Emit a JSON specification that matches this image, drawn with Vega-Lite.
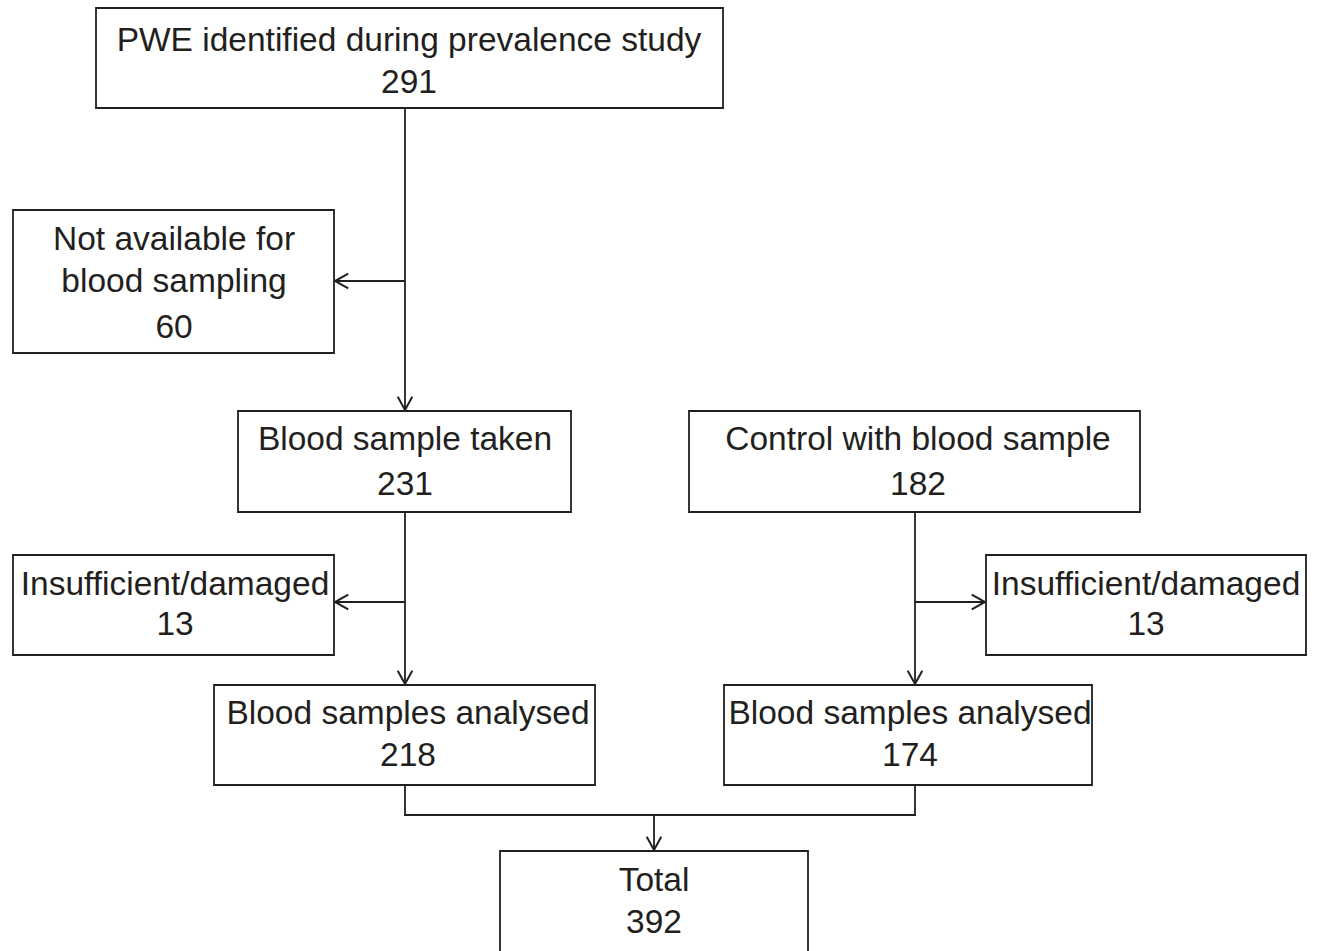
{
  "$schema": "https://vega.github.io/schema/vega-lite/v6.json",
  "width": 1318,
  "height": 951,
  "padding": 0,
  "autosize": {"type": "fit", "contains": "padding"},
  "background": "white",
  "config": {"view": {"stroke": null}},
  "datasets": {
    "boxes": [
      {"id": "pwe", "x": 96, "x2": 723, "y": 8, "y2": 108},
      {"id": "notavail", "x": 13, "x2": 334, "y": 210, "y2": 353},
      {"id": "taken", "x": 238, "x2": 571, "y": 411, "y2": 512},
      {"id": "control", "x": 689, "x2": 1140, "y": 411, "y2": 512},
      {"id": "insuf1", "x": 13, "x2": 334, "y": 555, "y2": 655},
      {"id": "insuf2", "x": 986, "x2": 1306, "y": 555, "y2": 655},
      {"id": "anal1", "x": 214, "x2": 595, "y": 685, "y2": 785},
      {"id": "anal2", "x": 724, "x2": 1092, "y": 685, "y2": 785},
      {"id": "total", "x": 500, "x2": 808, "y": 851, "y2": 965}
    ],
    "links": [
      {"x": 405, "y": 108, "x2": 405, "y2": 410},
      {"x": 405, "y": 281, "x2": 335, "y2": 281},
      {"x": 405, "y": 512, "x2": 405, "y2": 684},
      {"x": 405, "y": 602, "x2": 335, "y2": 602},
      {"x": 915, "y": 512, "x2": 915, "y2": 684},
      {"x": 915, "y": 602, "x2": 985, "y2": 602},
      {"x": 405, "y": 785, "x2": 405, "y2": 815},
      {"x": 404, "y": 815, "x2": 916, "y2": 815},
      {"x": 915, "y": 785, "x2": 915, "y2": 815},
      {"x": 654, "y": 815, "x2": 654, "y2": 850}
    ],
    "arrows": [
      {"x": 405, "y": 410, "dir": 0},
      {"x": 335, "y": 281, "dir": 90},
      {"x": 405, "y": 684, "dir": 0},
      {"x": 335, "y": 602, "dir": 90},
      {"x": 915, "y": 684, "dir": 0},
      {"x": 985, "y": 602, "dir": 270},
      {"x": 654, "y": 850, "dir": 0}
    ],
    "labels": [
      {"x": 409, "y": 51, "text": "PWE identified during prevalence study"},
      {"x": 409, "y": 93, "text": "291"},
      {"x": 174, "y": 250, "text": "Not available for"},
      {"x": 174, "y": 292, "text": "blood sampling"},
      {"x": 174, "y": 338, "text": "60"},
      {"x": 405, "y": 450, "text": "Blood sample taken"},
      {"x": 405, "y": 495, "text": "231"},
      {"x": 918, "y": 450, "text": "Control with blood sample"},
      {"x": 918, "y": 495, "text": "182"},
      {"x": 175, "y": 595, "text": "Insufficient/damaged"},
      {"x": 175, "y": 635, "text": "13"},
      {"x": 1146, "y": 595, "text": "Insufficient/damaged"},
      {"x": 1146, "y": 635, "text": "13"},
      {"x": 408, "y": 724, "text": "Blood samples analysed"},
      {"x": 408, "y": 766, "text": "218"},
      {"x": 910, "y": 724, "text": "Blood samples analysed"},
      {"x": 910, "y": 766, "text": "174"},
      {"x": 654, "y": 891, "text": "Total"},
      {"x": 654, "y": 933, "text": "392"}
    ]
  },
  "layer": [
    {
      "data": {"name": "boxes"},
      "mark": {"type": "rect", "fill": "white", "stroke": "#231f20", "strokeWidth": 1.8, "clip": true},
      "encoding": {
        "x": {"field": "x", "type": "quantitative", "scale": {"domain": [0, 1318], "nice": false, "zero": false}, "axis": null},
        "x2": {"field": "x2"},
        "y": {"field": "y", "type": "quantitative", "scale": {"domain": [0, 951], "nice": false, "zero": false, "reverse": true}, "axis": null},
        "y2": {"field": "y2"}
      }
    },
    {
      "data": {"name": "links"},
      "mark": {"type": "rule", "stroke": "#231f20", "strokeWidth": 1.8},
      "encoding": {
        "x": {"field": "x", "type": "quantitative"},
        "x2": {"field": "x2"},
        "y": {"field": "y", "type": "quantitative"},
        "y2": {"field": "y2"}
      }
    },
    {
      "data": {"name": "arrows"},
      "mark": {"type": "point", "shape": "M -0.55 -1 L 0 0 L 0.55 -1", "filled": false, "stroke": "#231f20", "strokeWidth": 2, "size": 700, "opacity": 1},
      "encoding": {
        "x": {"field": "x", "type": "quantitative"},
        "y": {"field": "y", "type": "quantitative"},
        "angle": {"field": "dir", "type": "quantitative", "scale": {"domain": [0, 360], "range": [0, 360]}}
      }
    },
    {
      "data": {"name": "labels"},
      "mark": {"type": "text", "font": "Liberation Sans", "fontSize": 33.5, "fill": "#231f20", "align": "center", "baseline": "alphabetic"},
      "encoding": {
        "x": {"field": "x", "type": "quantitative"},
        "y": {"field": "y", "type": "quantitative"},
        "text": {"field": "text"}
      }
    }
  ]
}
